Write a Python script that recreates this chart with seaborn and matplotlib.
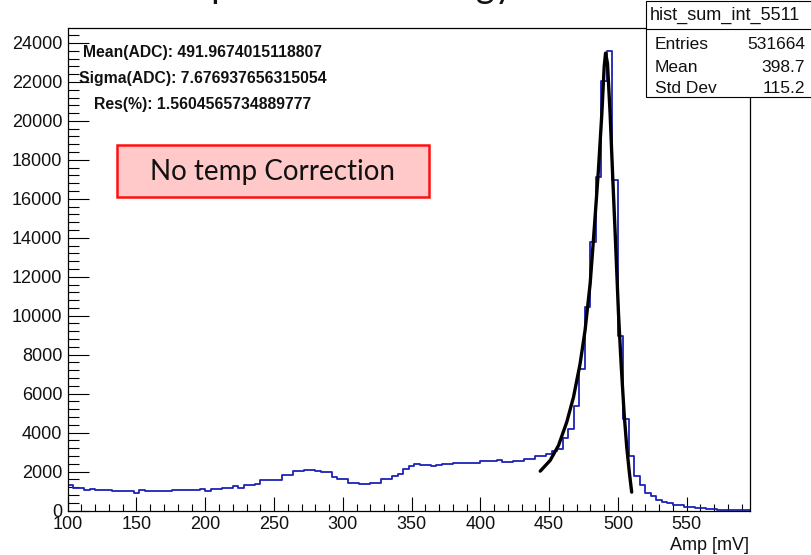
import numpy as np
import pandas as pd
import matplotlib
matplotlib.use("Agg")
import matplotlib.pyplot as plt
import seaborn as sns
from matplotlib.patches import Rectangle
from matplotlib.lines import Line2D
from matplotlib.ticker import MultipleLocator

# ---------------- data ----------------
bin_low = 100          # first bin edge (mV)
bin_width = 4          # mV
counts = [
    1285, 1165, 1165, 1062, 1113, 1062, 1062, 1062, 976, 976,
    976, 976, 890, 1062, 976, 976, 976, 976, 976, 1062,
    1062, 1062, 1062, 1062, 1113, 976, 1079, 1079, 1165, 1165,
    1233, 1165, 1285, 1285, 1370, 1576, 1576, 1576, 1576, 1833,
    1833, 2021, 2021, 2090, 2090, 2021, 1953, 1953, 1713, 1593,
    1593, 1422, 1422, 1353, 1353, 1422, 1422, 1593, 1593, 1764,
    1884, 2141, 2261, 2398, 2347, 2347, 2261, 2313, 2364, 2364,
    2432, 2432, 2432, 2432, 2432, 2535, 2535, 2535, 2603, 2483,
    2483, 2535, 2535, 2655, 2655, 2775, 2775, 2878, 3049, 3169,
    3734, 4196, 5344, 7280, 10449, 13789, 17140, 22030, 23570, 16980,
    8941, 4710, 2775, 1747, 1285, 890, 719, 548, 428, 377,
    308, 257, 171, 171, 120, 120, 68, 68, 34, 15,
    12, 10, 10, 10,
]
fit_x = [443.5, 450.7, 456.8, 462.8, 467.7, 472.5, 476.1, 479.8, 482.7, 485.8,
         488.3, 490.0, 491.0, 492.4, 494.3, 496.2, 498.4, 500.4, 502.3, 504.5,
         506.4, 508.4, 510.0]
fit_y = [2020, 2569, 3340, 4539, 5824, 7537, 9250, 11648, 14388, 17472,
         20384, 22782, 23480, 22953, 20384, 17130, 13532, 10107, 7537, 4967,
         3255, 1884, 942]

stats_name = "hist_sum_int_5511"
stats_rows = [("Entries", "531664"), ("Mean", "398.7"), ("Std Dev", "115.2")]
fit_texts = ["Mean(ADC): 491.9674015118807",
             "Sigma(ADC): 7.676937656315054",
             "Res(%): 1.5604565734889777"]
box_text = "No temp Correction"
title_text = "Amplitude sum energy"
x_label = "Amp [mV]"

edges = (bin_low + bin_width * np.arange(len(counts) + 1)).tolist()
centers = [e + bin_width / 2 for e in edges[:-1]]
df = pd.DataFrame({"amp": centers, "count": counts})

# ---------------- figure ----------------
sns.set_theme(style="white")
plt.rcParams["font.family"] = ["Liberation Sans", "DejaVu Sans"]

W, H = 812, 555
fig = plt.figure(figsize=(W / 100, H / 100), dpi=100)
fig.patch.set_facecolor("white")

def fx(px):
    return px / W

def fy(py):
    return 1 - py / H

L, R, T, B = 67.7, 750, 28, 510.5
ax = fig.add_axes([fx(L), fy(B), (R - L) / W, (B - T) / H])

sns.histplot(data=df, x="amp", weights="count", bins=edges, element="step",
             fill=False, color="#1c22b8", linewidth=1.3, ax=ax)
sns.lineplot(x=fit_x, y=fit_y, sort=False, estimator=None, color="black",
             linewidth=2.4, ax=ax)

ax.set_xlim(100, 596)
ax.set_ylim(0, 24770)
ax.set_xlabel("")
ax.set_ylabel("")
ax.xaxis.set_major_locator(MultipleLocator(50))
ax.xaxis.set_minor_locator(MultipleLocator(10))
ax.yaxis.set_major_locator(MultipleLocator(2000))
ax.yaxis.set_minor_locator(MultipleLocator(400))
ax.tick_params(which="both", direction="in", top=False, right=False,
               bottom=True, left=True,
               color="black", width=0.8, labelsize=13, labelcolor="#111111")
ax.tick_params(axis="x", which="major", length=10.3, pad=4)
ax.tick_params(axis="x", which="minor", length=5.2)
ax.tick_params(axis="y", which="major", length=15.2, pad=4)
ax.tick_params(axis="y", which="minor", length=7.6)
for s in ax.spines.values():
    s.set_color("black")
    s.set_linewidth(0.9)

fig.text(fx(749), fy(546), x_label, ha="right", va="center", fontsize=13,
         color="#111111")

# fit result texts
for txt, yy in zip(fit_texts, [52, 78, 104]):
    fig.text(fx(203), fy(yy), txt, ha="center", va="center", fontsize=11.3,
             fontweight="bold", color="#111111")

# stats box
fig.patches.append(Rectangle((fx(645.7), fy(97.3)), fx(820) - fx(645.7),
                             fy(1) - fy(97.3), transform=fig.transFigure,
                             facecolor="white", edgecolor="black",
                             linewidth=0.8, zorder=5))
fig.lines.append(Line2D([fx(645.7), fx(820)], [fy(29.3), fy(29.3)],
                        transform=fig.transFigure, color="black",
                        linewidth=0.8, zorder=6))
fig.text(fx(650), fy(15.5), stats_name, ha="left", va="center", fontsize=13,
         color="#111111", zorder=7)
for (k, v), yy in zip(stats_rows, [44.3, 67.7, 88.3]):
    fig.text(fx(655), fy(yy), k, ha="left", va="center", fontsize=12.5,
             color="#111111", zorder=7)
    fig.text(fx(805), fy(yy), v, ha="right", va="center", fontsize=12.5,
             color="#111111", zorder=7)

# "No temp Correction" box
fig.patches.append(Rectangle((fx(117.5), fy(197.5)), fx(429.5) - fx(117.5),
                             fy(145.5) - fy(197.5), transform=fig.transFigure,
                             facecolor="#ffc9c9", edgecolor="#ff1010",
                             linewidth=1.8, zorder=5))
fig.text(fx(273), fy(172), box_text, ha="center", va="center", fontsize=20,
         family=["Lato", "DejaVu Sans"], color="#111111", zorder=7)

# title, mostly cut off at the top of the picture (only descenders show)
fig.text(fx(157), fy(-2), title_text, ha="left", va="baseline", fontsize=26,
         family=["Lato", "DejaVu Sans"], color="#111111")

fig.savefig("out.png", dpi=100, facecolor="white")
